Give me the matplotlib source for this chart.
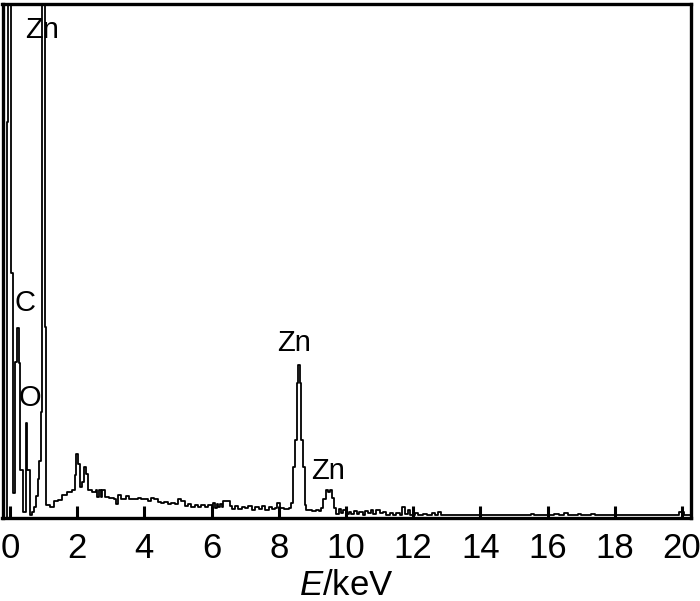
import matplotlib
matplotlib.use("Agg")
import matplotlib.pyplot as plt

plt.rcParams['font.family'] = ['Liberation Sans', 'DejaVu Sans']
plt.rcParams['mathtext.fontset'] = 'custom'
plt.rcParams['mathtext.rm'] = 'Liberation Sans'
plt.rcParams['mathtext.it'] = 'Liberation Sans:italic'

# EDS spectrum: bin start energy (keV) and counts (a.u.)
energy_keV = [
    -0.21, -0.09, -0.06, 0.03, 0.09, 0.15, 0.21, 0.26, 0.31, 0.38,
    0.47, 0.515, 0.595, 0.655, 0.714, 0.774, 0.833, 0.87, 0.914, 0.943,
    1.042, 1.086, 1.20, 1.30, 1.42, 1.55, 1.69, 1.84, 1.93, 1.98,
    2.03, 2.08, 2.14, 2.20, 2.27, 2.31, 2.45, 2.55, 2.60, 2.65,
    2.70, 2.75, 2.82, 2.95, 3.10, 3.16, 3.21, 3.30, 3.45, 3.55,
    3.70, 3.80, 3.90, 4.00, 4.10, 4.20, 4.30, 4.40, 4.50, 4.60,
    4.70, 4.80, 4.90, 5.00, 5.10, 5.20, 5.30, 5.40, 5.50, 5.60,
    5.70, 5.80, 5.90, 6.00, 6.05, 6.10, 6.15, 6.20, 6.25, 6.30,
    6.35, 6.55, 6.60, 6.70, 6.80, 6.90, 7.00, 7.10, 7.20, 7.30,
    7.40, 7.50, 7.60, 7.70, 7.80, 7.90, 7.95, 8.05, 8.15, 8.30,
    8.38, 8.44, 8.49, 8.535, 8.57, 8.63, 8.665, 8.72, 8.77, 8.82,
    9.00, 9.10, 9.20, 9.25, 9.32, 9.40, 9.48, 9.52, 9.58, 9.64,
    9.70, 9.78, 9.85, 9.92, 10.00, 10.08, 10.16, 10.24, 10.32, 10.40,
    10.50, 10.58, 10.66, 10.74, 10.82, 10.90, 11.00, 11.10, 11.20, 11.30,
    11.40, 11.50, 11.60, 11.68, 11.75, 11.84, 11.92, 12.05, 12.15, 12.30,
    12.40, 12.55, 12.65, 12.75, 12.82, 13.00, 13.20, 13.40, 14.00, 15.50,
    15.60, 16.20, 16.35, 16.50, 16.60, 16.90, 17.00, 17.30, 17.40, 18.00,
    19.90, 20.05, 20.30,
]
counts = [
    0, 770, 2000, 477, 49, 304, 370, 302, 93, 12,
    185, 93, 5, 12, 22, 42, 75, 110, 206, 2000,
    372, 25, 22, 33, 35, 45, 51, 54, 84, 125,
    105, 60, 70, 99, 85, 54, 51, 54, 40, 54,
    40, 54, 40, 38, 36, 27, 45, 37, 42, 37,
    36, 38, 36, 36, 33, 38, 36, 31, 29, 32,
    27, 30, 28, 36, 33, 24, 27, 22, 26, 21,
    25, 22, 26, 20, 29, 20, 28, 21, 28, 22,
    34, 24, 18, 24, 17, 22, 19, 24, 16, 22,
    18, 23, 15, 21, 17, 20, 29, 20, 17, 20,
    29, 99, 152, 262, 298, 262, 152, 99, 25, 16,
    14, 16, 14, 20, 37, 54, 50, 54, 38, 20,
    8, 18, 10, 16, 8, 12, 7, 13, 8, 12,
    6, 14, 9, 16, 8, 15, 9, 12, 6, 10,
    5, 9, 6, 22, 8, 15, 6, 9, 5, 8,
    5, 9, 5, 12, 5, 6, 5, 5, 5, 7,
    5, 8, 5, 9, 5, 8, 5, 8, 5, 5,
    12, 5, 5,
]

tick_values = [0, 2, 4, 6, 8, 10, 12, 14, 16, 18, 20]

peak_labels = ["Zn", "C", "O", "Zn", "Zn"]
label_E = [0.97, 0.45, 0.60, 8.45, 9.46]
label_counts = [950, 418, 234, 341, 91]

fig = plt.figure(figsize=(7.0, 6.01), dpi=100)
ax = fig.add_axes([2.5 / 700, 1 - 518 / 601, 688.5 / 700, 514 / 601])

ax.step(energy_keV, counts, where='post', color='black', lw=1.3)

for lab, e, c in zip(peak_labels, label_E, label_counts):
    ax.text(e, c, lab, ha='center', va='center', fontsize=21, color='black')

ax.set_xlim(-0.22, 20.27)
ax.set_ylim(0, 1000)
ax.set_xticks(tick_values)
ax.set_xticklabels([str(t) for t in tick_values])
ax.set_yticks([])
ax.tick_params(axis='x', direction='in', length=8.5, width=2.2,
               labelsize=25, pad=10)
for sp in ax.spines.values():
    sp.set_linewidth(2.4)

ax.set_xlabel(r'$\mathit{E}$/keV', fontsize=25, labelpad=3)

fig.savefig('out.png', dpi=100)
